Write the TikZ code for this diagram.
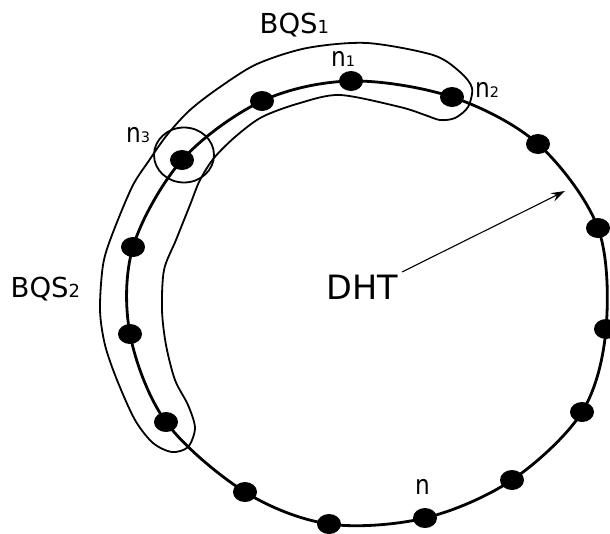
\documentclass[tikz,border=0pt]{standalone}
\usepackage{fontspec}
\setmainfont{DejaVu Sans}
\usetikzlibrary{shapes.geometric,arrows.meta}
\begin{document}
\begin{tikzpicture}[x=1pt,y=-1pt,
  dot/.style={ellipse,fill=black,minimum width=24pt,minimum height=20pt,inner sep=0pt},
  ring/.style={line width=2.8pt},
  outline/.style={line width=1.8pt},
  lbl/.style={anchor=base west,inner sep=0pt},
  bigtxt/.style={font=\fontsize{27.5}{28}\selectfont},
  ]
\useasboundingbox (0,0) rectangle (610,533);
\newcommand{\nn}{\scalebox{0.86}[1]{\fontsize{27}{27}\selectfont n}}
\newcommand{\subs}[1]{{\fontsize{14.5}{15}\selectfont #1}}
\newcommand{\bsubs}[1]{{\fontsize{18}{18}\selectfont #1}}
% nodes on the ring
\node[dot] (d1) at (351,81) {};
\node[dot] (d2) at (452,97) {};
\node[dot] (d3) at (538,144) {};
\node[dot] (d4) at (598,228) {};
\node[dot] (d5) at (606,329) {};
\node[dot] (d6) at (582,412) {};
\node[dot] (d7) at (512,480) {};
\node[dot] (d8) at (425,518) {};
\node[dot] (d9) at (329,524) {};
\node[dot] (d10) at (245,492) {};
\node[dot] (d11) at (166,422) {};
\node[dot] (d12) at (130,334) {};
\node[dot] (d13) at (133,247) {};
\node[dot] (d14) at (182,160) {};
\node[dot] (d15) at (262,101) {};
% ring
\draw[ring] plot[smooth cycle,tension=0.55] coordinates {(d1.center) (d2.center) (d3.center) (d4.center) (d5.center) (d6.center) (d7.center) (d8.center) (d9.center) (d10.center) (d11.center) (d12.center) (d13.center) (d14.center) (d15.center)};
% quorum outline
\draw[outline] plot[smooth cycle,tension=0.5] coordinates {(172,452) (153,443) (135,420) (117,380) (105,345) (100,310) (103,265) (112,235) (132,187) (148,162) (167,135) (190,110) (220,87) (257,64) (307,48) (367,43) (433,55) (460,72) (472,88) (468,107) (455,118) (440,120) (425,115) (400,107) (340,95) (300,103) (262,117) (235,137) (214,158) (200,180) (190,205) (176,240) (164,270) (162,310) (166,345) (175,380) (188,405) (195,428) (188,447)};
% circle around n3
\node[draw,ellipse,outline,minimum width=60pt,minimum height=55pt] (c3) at (184,155) {};
% labels
\node[lbl,bigtxt] (bqs1) at (259.5,33) {BQS\bsubs{1}};
\node[lbl,bigtxt] (bqs2) at (10.5,297) {BQS\bsubs{2}};
\node[lbl] (l1) at (331,66) {\nn\subs{1}};
\node[lbl] (l2) at (475,97) {\nn\subs{2}};
\node[lbl] (l3) at (126,142) {\nn\subs{3}};
\node[lbl] (ln) at (415,494) {\nn};
\node[lbl,font=\fontsize{33.5}{34}\selectfont] (DHT) at (326,299) {DHT};
% arrow
\coordinate (a0) at (402,272);
\coordinate (a1) at (565,191);
\draw[line width=1.1pt,-{Stealth[length=14pt,width=9pt,inset=5pt]}] (a0) -- (a1);
\end{tikzpicture}
\end{document}
